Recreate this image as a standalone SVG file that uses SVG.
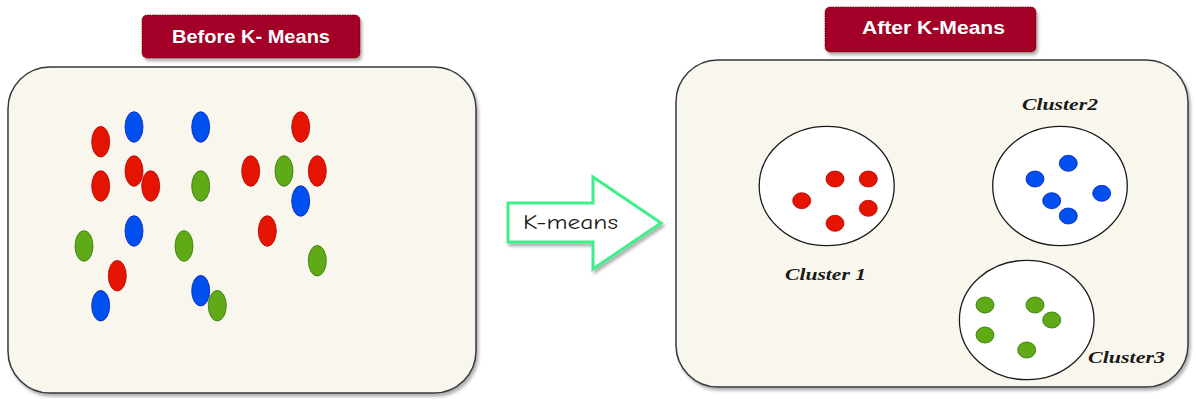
<svg xmlns="http://www.w3.org/2000/svg" width="1196" height="399" viewBox="0 0 1196 399">
  <defs>
    <filter id="shadow" x="-10%" y="-10%" width="130%" height="130%">
      <feDropShadow dx="2" dy="3" stdDeviation="1.6" flood-color="#000" flood-opacity="0.3"/>
    </filter>
    <style>
      .panel { fill: #f9f7ed; stroke: #36393d; stroke-width: 1.5; filter: url(#shadow); }
      .title { fill: #a20025; stroke: #6f0000; stroke-width: 0.8; stroke-dasharray: 1.5 1; filter: url(#shadow); }
      .title-text { font-family: "Liberation Sans", Arial, sans-serif; font-weight: bold; font-size: 18px; fill: #ffffff; text-anchor: start; }
      .r { fill: #e51400; stroke: #b20000; stroke-width: 0.8; }
      .b { fill: #0050ef; stroke: #001dbc; stroke-width: 0.8; }
      .g { fill: #60a917; stroke: #2d7600; stroke-width: 0.8; }
      .cluster { fill: #ffffff; stroke: #1a1a1a; stroke-width: 1.3; }
      .label { font-family: "Liberation Serif", "Times New Roman", serif; font-style: italic; font-weight: bold; font-size: 17px; fill: #1a1a1a; text-anchor: start; }
      .arrow { fill: #ffffff; stroke: #3cf089; stroke-width: 3; stroke-linejoin: miter; filter: url(#shadow); }
      .arrow-text { font-family: "Comic Neue", "Comic Sans MS", "DejaVu Sans", sans-serif; font-size: 20px; fill: #1a1a1a; text-anchor: start; }
    </style>
  </defs>

  <!-- Left panel: unclustered points -->
  <g id="before-panel">
    <rect class="panel" x="8" y="67" width="468" height="326" rx="42" ry="42"/>
    <ellipse class="r" cx="100.7" cy="141.7" rx="9" ry="15.3"/>
    <ellipse class="b" cx="134" cy="127" rx="9" ry="15.3"/>
    <ellipse class="b" cx="200.7" cy="127" rx="9" ry="15.3"/>
    <ellipse class="r" cx="300.7" cy="127" rx="9" ry="15.3"/>
    <ellipse class="r" cx="100.7" cy="186" rx="9" ry="15.3"/>
    <ellipse class="r" cx="134" cy="171" rx="9" ry="15.3"/>
    <ellipse class="r" cx="150.7" cy="186" rx="9" ry="15.3"/>
    <ellipse class="g" cx="200.7" cy="186" rx="9" ry="15.3"/>
    <ellipse class="r" cx="250.7" cy="171" rx="9" ry="15.3"/>
    <ellipse class="g" cx="284" cy="171" rx="9" ry="15.3"/>
    <ellipse class="r" cx="317.3" cy="171" rx="9" ry="15.3"/>
    <ellipse class="b" cx="300.7" cy="201" rx="9" ry="15.3"/>
    <ellipse class="b" cx="134" cy="231" rx="9" ry="15.3"/>
    <ellipse class="g" cx="84" cy="246" rx="9" ry="15.3"/>
    <ellipse class="g" cx="184" cy="246" rx="9" ry="15.3"/>
    <ellipse class="r" cx="267.3" cy="231" rx="9" ry="15.3"/>
    <ellipse class="r" cx="117.3" cy="275.7" rx="9" ry="15.3"/>
    <ellipse class="g" cx="317.3" cy="260.7" rx="9" ry="15.3"/>
    <ellipse class="b" cx="100.7" cy="305.7" rx="9" ry="15.3"/>
    <ellipse class="b" cx="200.7" cy="290.7" rx="9" ry="15.3"/>
    <ellipse class="g" cx="217.3" cy="305.7" rx="9" ry="15.3"/>
  </g>

  <g id="before-title">
    <rect class="title" x="142" y="15" width="218" height="43" rx="5" ry="5"/>
    <text class="title-text" x="172" y="42.5" textLength="158" lengthAdjust="spacingAndGlyphs">Before K- Means</text>
  </g>

  <!-- Right panel: clustered points -->
  <g id="after-panel">
    <rect class="panel" x="676" y="60" width="512" height="327" rx="42" ry="42"/>
  </g>

  <g id="cluster1">
    <ellipse class="cluster" cx="826.7" cy="186" rx="67.5" ry="59.7"/>
    <ellipse class="r" cx="835" cy="179" rx="9" ry="8"/>
    <ellipse class="r" cx="868.3" cy="179" rx="9" ry="8"/>
    <ellipse class="r" cx="801.7" cy="200.7" rx="9" ry="8"/>
    <ellipse class="r" cx="868.3" cy="208.3" rx="9" ry="8"/>
    <ellipse class="r" cx="835" cy="223.3" rx="9" ry="8"/>
    <text class="label" x="785" y="280" textLength="81" lengthAdjust="spacingAndGlyphs">Cluster 1</text>
  </g>

  <g id="cluster2">
    <ellipse class="cluster" cx="1060" cy="186" rx="67.3" ry="59.7"/>
    <ellipse class="b" cx="1068.3" cy="163.3" rx="9" ry="8"/>
    <ellipse class="b" cx="1035" cy="179" rx="9" ry="8"/>
    <ellipse class="b" cx="1101.7" cy="193.3" rx="9" ry="8"/>
    <ellipse class="b" cx="1051.7" cy="200.7" rx="9" ry="8"/>
    <ellipse class="b" cx="1068.3" cy="216" rx="9" ry="8"/>
    <text class="label" x="1022" y="110" textLength="76" lengthAdjust="spacingAndGlyphs">Cluster2</text>
  </g>

  <g id="cluster3">
    <ellipse class="cluster" cx="1026.7" cy="320" rx="67.3" ry="59.7"/>
    <ellipse class="g" cx="985" cy="305" rx="9" ry="8"/>
    <ellipse class="g" cx="1035" cy="305" rx="9" ry="8"/>
    <ellipse class="g" cx="1051.7" cy="320" rx="9" ry="8"/>
    <ellipse class="g" cx="985" cy="335" rx="9" ry="8"/>
    <ellipse class="g" cx="1026.7" cy="350" rx="9" ry="8"/>
    <text class="label" x="1088" y="362.5" textLength="77" lengthAdjust="spacingAndGlyphs">Cluster3</text>
  </g>

  <g id="after-title">
    <rect class="title" x="825" y="7" width="211" height="45" rx="5" ry="5"/>
    <text class="title-text" x="862" y="34" textLength="143" lengthAdjust="spacingAndGlyphs">After K-Means</text>
  </g>

  <!-- Transition arrow between the two panels -->
  <g id="connectors">
    <path class="arrow" d="M508,203 L593,203 L593,177 L661,223 L593,269 L593,242 L508,242 Z"/>
    <text class="arrow-text" x="523" y="229" textLength="95" lengthAdjust="spacingAndGlyphs">K-means</text>
  </g>
</svg>
